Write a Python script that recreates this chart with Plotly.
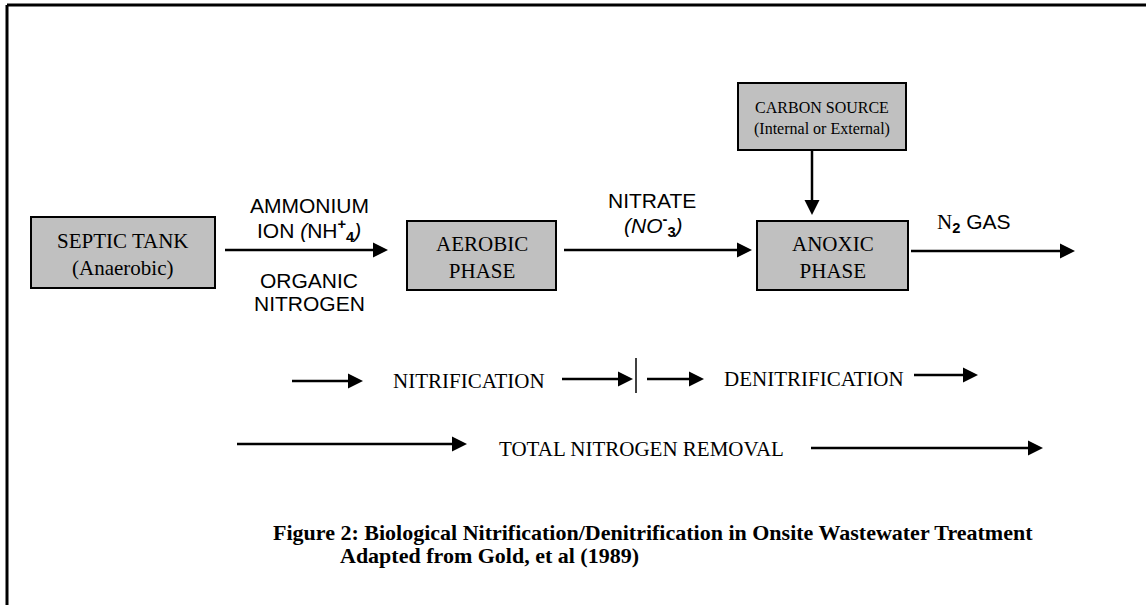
import plotly.graph_objects as go

# ---- diagram data (pixel-space coordinates, y grows downward) ----
box_labels = ["SEPTIC TANK<br>(Anaerobic)", "AEROBIC<br>PHASE", "ANOXIC<br>PHASE",
              "CARBON SOURCE<br>(Internal or External)"]
box_x0 = [31, 407, 757, 738]
box_x1 = [215, 556, 908, 906]
box_y0 = [217, 221, 221, 83]
box_y1 = [288, 290, 290, 150]
box_font = [21, 21, 21, 16]

arrow_x0 = [225, 564, 911, 812, 292, 562, 647, 914, 237, 811]
arrow_y0 = [250, 250, 251, 150, 381, 379, 379, 375, 444, 448]
arrow_x1 = [388, 752, 1075, 812, 363, 633, 704, 978, 467, 1043]
arrow_y1 = [250, 250, 251, 215, 381, 379, 379, 375, 444, 448]

sans_labels = ["AMMONIUM", "ION <i>(</i>NH<sup><b>+</b></sup><sub><b>4</b></sub><i>)</i>", "ORGANIC", "NITROGEN",
               "NITRATE", "<i>(NO</i><sup><b>-</b></sup><sub><b>3</b></sub><i>)</i>",
               "<span style='font-family:Liberation Serif'>N</span><sub><b>2</b></sub> GAS"]
sans_x = [309, 309, 309, 309, 652, 653, 974]
sans_y = [205, 230, 280, 303, 200, 225, 223]

serif_labels = ["NITRIFICATION", "DENITRIFICATION", "TOTAL NITROGEN REMOVAL"]
serif_x = [469, 814, 641]
serif_y = [381, 379, 449]

caption_lines = ["Figure 2: Biological Nitrification/Denitrification in Onsite Wastewater Treatment",
                 "Adapted from Gold, et al (1989)"]
caption_x = [271, 338]
caption_y = [532, 555]

W, H = 1146, 605
fig = go.Figure()
shapes = []
annotations = []

# frame
shapes.append(dict(type="line", x0=7, y0=5, x1=W, y1=5, line=dict(color="black", width=3)))
shapes.append(dict(type="line", x0=7, y0=5, x1=7, y1=H, line=dict(color="black", width=3)))

# boxes
for lab, a, b, c, d, fs in zip(box_labels, box_x0, box_x1, box_y0, box_y1, box_font):
    shapes.append(dict(type="rect", x0=a, x1=b, y0=c, y1=d,
                       fillcolor="#c0c0c0", line=dict(color="black", width=2)))
    annotations.append(dict(x=(a + b) / 2, y=(c + d) / 2, text=lab, showarrow=False,
                            xanchor="center", yanchor="middle", yshift=-2,
                            font=dict(family="Liberation Serif", size=fs, color="black")))

# arrows
HL, HW = 15, 7.5
for a, c, b, d in zip(arrow_x0, arrow_y0, arrow_x1, arrow_y1):
    if c == d:
        sgn = 1 if b > a else -1
        base = b - sgn * HL
        shapes.append(dict(type="line", x0=a, y0=c, x1=base, y1=d, line=dict(color="black", width=2.5)))
        path = f"M{base},{d - HW} L{b},{d} L{base},{d + HW} Z"
    else:
        sgn = 1 if d > c else -1
        base = d - sgn * HL
        shapes.append(dict(type="line", x0=a, y0=c, x1=b, y1=base, line=dict(color="black", width=2.5)))
        path = f"M{b - HW},{base} L{b},{d} L{b + HW},{base} Z"
    shapes.append(dict(type="path", path=path, fillcolor="black", line=dict(color="black", width=0)))

# divider between nitrification and denitrification
shapes.append(dict(type="line", x0=636, y0=358, x1=636, y1=393, line=dict(color="black", width=1.5)))

for t, x, y in zip(sans_labels, sans_x, sans_y):
    annotations.append(dict(x=x, y=y, text=t, showarrow=False, xanchor="center", yanchor="middle",
                            font=dict(family="Liberation Sans", size=21, color="black")))
for t, x, y in zip(serif_labels, serif_x, serif_y):
    annotations.append(dict(x=x, y=y, text=t, showarrow=False, xanchor="center", yanchor="middle",
                            font=dict(family="Liberation Serif", size=21, color="black")))
for t, x, y in zip(caption_lines, caption_x, caption_y):
    annotations.append(dict(x=x, y=y, text="<b>" + t + "</b>", showarrow=False, xanchor="left",
                            yanchor="middle",
                            font=dict(family="Liberation Serif", size=22, color="black")))

fig.update_layout(
    width=W, height=H, margin=dict(l=0, r=0, t=0, b=0),
    paper_bgcolor="white", plot_bgcolor="white",
    xaxis=dict(range=[0, W], visible=False, fixedrange=True),
    yaxis=dict(range=[H, 0], visible=False, fixedrange=True),
    shapes=shapes, annotations=annotations, showlegend=False,
)
fig.write_html("out.html", config={"displayModeBar": False},
               post_script="document.body.style.margin='0';document.body.style.overflow='hidden';")
